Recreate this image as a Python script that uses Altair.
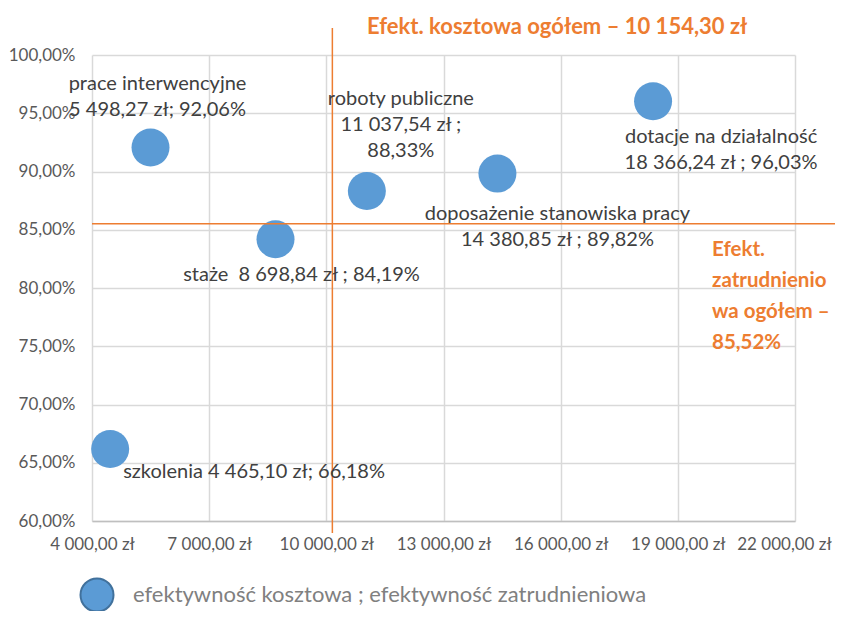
import altair as alt
import pandas as pd

# ---- data ----
categories = ["prace interwencyjne", "roboty publiczne", "staże",
              "doposażenie stanowiska pracy", "dotacje na działalność", "szkolenia"]
koszt = [5498.27, 11037.54, 8698.84, 14380.85, 18366.24, 4465.10]
zatrudnienie = [92.06, 88.33, 84.19, 89.82, 96.03, 66.18]
labels = [
    "prace interwencyjne\n5 498,27 zł; 92,06%",
    "roboty publiczne\n11 037,54 zł ;\n88,33%",
    "staże\u00a0 8 698,84 zł ; 84,19%",
    "doposażenie stanowiska pracy\n14 380,85 zł ; 89,82%",
    "dotacje na działalność\n18 366,24 zł ; 96,03%",
    "szkolenia 4 465,10 zł; 66,18%",
]
series_name = "efektywność kosztowa ; efektywność zatrudnieniowa"
avg_koszt = 10154.30
avg_zatr = 85.52
x_ticks = [4000, 7000, 10000, 13000, 16000, 19000, 22000]
y_ticks = [60, 65, 70, 75, 80, 85, 90, 95, 100]

df = pd.DataFrame({"cat": categories, "koszt": koszt, "zatr": zatrudnienie,
                   "label": labels, "series": series_name})

FONT = "Lato"
BLUE = "#5B9BD5"
ORANGE = "#ED7D31"
TXT = "#404040"

xs = alt.Scale(domain=[4000, 22000], nice=False, zero=False)
ys = alt.Scale(domain=[60, 100], nice=False, zero=False)

base = alt.Chart(df)

points = base.mark_point(filled=True, opacity=1, size=1444, shape="circle").encode(
    x=alt.X("koszt:Q", scale=xs, title=None,
            axis=alt.Axis(values=x_ticks, labelOverlap=False, labelFlush=False,
                          labelFontSize=17, labelPadding=15,
                          labelOffset={"condition": {"test": "datum.value == 22000", "value": -11},
                                       "value": 0},
                          labelExpr="format(datum.value, ',.2f') + ' zł'")),
    y=alt.Y("zatr:Q", scale=ys, title=None,
            axis=alt.Axis(values=y_ticks, labelOverlap=False, labelFlush=False,
                          labelFontSize=17, labelPadding=17,
                          labelExpr="format(datum.value, '.2f') + '%'")),
    color=alt.Color("series:N", scale=alt.Scale(range=[BLUE]),
                    legend=alt.Legend(title=None, orient="none", legendX=-13, legendY=522,
                                      symbolSize=1090, symbolStrokeColor="#41719C",
                                      symbolStrokeWidth=2, symbolFillColor=BLUE,
                                      labelFontSize=22, labelColor="#808080",
                                      labelFont=FONT, labelOffset=18,
                                      labelLimit=800)),
)

# label placements (alignment / pixel offsets per point)
placements = {
    "prace interwencyjne": dict(align="center", dx=7, dy=-64),
    "roboty publiczne": dict(align="center", dx=34, dy=-92),
    "staże": dict(align="center", dx=26, dy=36),
    "doposażenie stanowiska pracy": dict(align="center", dx=60, dy=40),
    "dotacje na działalność": dict(align="center", dx=68, dy=36),
    "szkolenia": dict(align="left", dx=13, dy=23),
}
label_layers = []
for cat, p in placements.items():
    label_layers.append(
        base.transform_filter(alt.datum.cat == cat).mark_text(
            baseline="middle", lineBreak="\n", lineHeight=26, fontSize=20,
            font=FONT, color=TXT, **p
        ).encode(x=alt.X("koszt:Q", scale=xs), y=alt.Y("zatr:Q", scale=ys), text="label:N")
    )

vline = alt.Chart(pd.DataFrame({"v": [avg_koszt]})).mark_rule(
    color=ORANGE, strokeWidth=1.5).encode(
    x=alt.X("v:Q", scale=xs), y=alt.value(-27), y2=alt.value(478))
hline = alt.Chart(pd.DataFrame({"v": [avg_zatr]})).mark_rule(
    color=ORANGE, strokeWidth=1.5).encode(
    y=alt.Y("v:Q", scale=ys), x=alt.value(0), x2=alt.value(780))

top_note = alt.Chart(pd.DataFrame({"t": ["Efekt. kosztowa ogółem – 10 154,30 zł"]})).mark_text(
    align="left", baseline="middle", fontSize=22, fontWeight="bold", font=FONT, color=ORANGE
).encode(x=alt.value(275), y=alt.value(-28), text="t:N")

right_note = alt.Chart(pd.DataFrame({"t": ["Efekt.\nzatrudnienio\nwa ogółem –\n85,52%"]})).mark_text(
    align="left", baseline="middle", fontSize=20.5, fontWeight="bold", font=FONT, color=ORANGE,
    lineBreak="\n", lineHeight=31
).encode(x=alt.value(620), y=alt.value(195), text="t:N")

chart = alt.layer(points, vline, hline, *label_layers, top_note, right_note).properties(
    width=703, height=466,
    autosize=alt.AutoSizeParams(type="none"),
    padding={"left": 84, "top": 47, "right": 40, "bottom": 90},
).configure(
    locale={"number": {"decimal": ",", "thousands": " ", "grouping": [3],
                       "currency": ["", " zł"]}},
).configure_view(stroke=None).configure_axis(
    grid=True, gridColor="#D9D9D9", gridWidth=1.5, ticks=False,
    labelFont=FONT, labelColor="#595959",
).configure_axisX(
    domainColor="#BFBFBF", domainWidth=1.5,
).configure_axisY(
    domain=False,
)

chart.save("out.html", embed_options={"renderer": "svg", "actions": False})
